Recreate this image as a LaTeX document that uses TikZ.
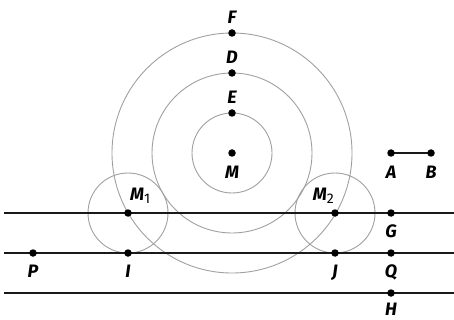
\documentclass[tikz,border=0pt]{standalone}
\usepackage{fontspec}
\newfontfamily\lblfont{Fira Sans}
\usetikzlibrary{positioning}
\definecolor{cgray}{HTML}{A0A0A0}

\begin{document}
\begin{tikzpicture}[
  x=1pt,y=-1pt,
  lbl/.style={font=\lblfont\bfseries\itshape\fontsize{18}{18}\selectfont,inner sep=0pt},
  circ/.style={draw=cgray,line width=0.9pt},
  ln/.style={draw=black!90,line width=2.6pt},
  pt/.style={fill=black,circle,inner sep=0pt,minimum size=7.5pt}
]
\useasboundingbox (0,0) rectangle (454,320);
% centres and points
\coordinate (M) at (232,153);
\coordinate (E) at (232,113);
\coordinate (D) at (232,73);
\coordinate (F) at (232,33);
\coordinate (M1) at (128,213);
\coordinate (M2) at (335,213);
\coordinate (I) at (128,253);
\coordinate (J) at (335,253);
\coordinate (P) at (33,253);
\coordinate (G) at (391,213);
\coordinate (Q) at (391,253);
\coordinate (H) at (391,293);
\coordinate (A) at (391,153);
\coordinate (B) at (431,153);
% line ends
\coordinate (g1) at (4,213);  \coordinate (g2) at (454,213);
\coordinate (q1) at (4,253);  \coordinate (q2) at (454,253);
\coordinate (h1) at (4,293);  \coordinate (h2) at (454,293);
% circles
\draw[circ] (M) circle[radius=40];
\draw[circ] (M) circle[radius=80];
\draw[circ] (M) circle[radius=120];
\draw[circ] (M1) circle[radius=40];
\draw[circ] (M2) circle[radius=40];
% lines
\draw[ln] (g1) -- (g2);
\draw[ln] (q1) -- (q2);
\draw[ln] (h1) -- (h2);
\draw[draw=black!90,line width=1.8pt] (A) -- (B);
% dots
\foreach \p in {M,E,D,F,M1,M2,I,J,P,G,Q,H,A,B}
  \node[pt] at (\p) {};
% labels
\node[lbl,above=9pt of F] (Flbl) {F};
\node[lbl,above=9pt of D] (Dlbl) {D};
\node[lbl,above=9pt of E] (Elbl) {E};
\node[lbl,below=13pt of M] (Mlbl) {M};
\node[lbl,below=13pt of A] (Albl) {A};
\node[lbl,below=13pt of B] (Blbl) {B};
\node[lbl,below=12pt of G] (Glbl) {G};
\node[lbl,below=12pt of P] (Plbl) {P};
\node[lbl,below=12pt of I] (Ilbl) {I};
\node[lbl,below=12pt of J] (Jlbl) {J};
\node[lbl,below=12pt of Q] (Qlbl) {Q};
\node[lbl,below=10pt of H] (Hlbl) {H};
\node[lbl,anchor=south west] (M1lbl) at ([shift={(2,-9)}]M1)
  {M\raisebox{-3pt}{\mdseries\upshape\fontsize{14}{14}\selectfont 1}};
\node[lbl,anchor=south east] (M2lbl) at ([shift={(-1,-9)}]M2)
  {M\raisebox{-3pt}{\mdseries\upshape\fontsize{14}{14}\selectfont 2}};
\end{tikzpicture}
\end{document}
